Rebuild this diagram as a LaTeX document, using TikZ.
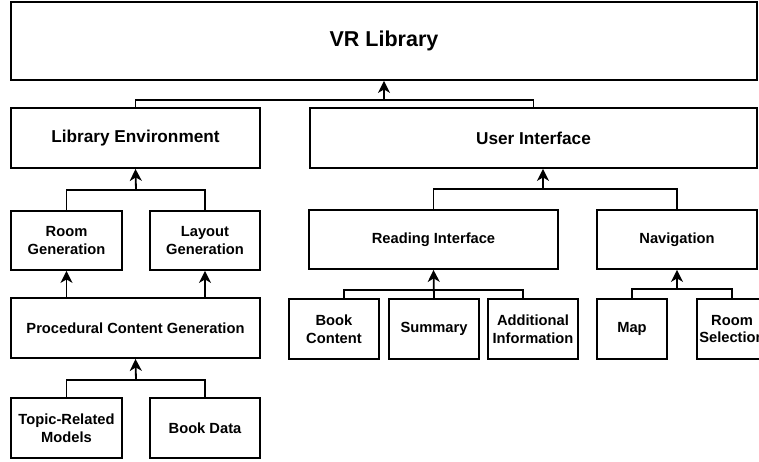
\documentclass[tikz,border=0pt]{standalone}
\usepackage{fontspec}
\setmainfont{Liberation Sans}
\usetikzlibrary{arrows.meta,positioning}

\begin{document}
\begin{tikzpicture}[x=1pt,y=-1pt,
    box/.style={draw=black,line width=1.8pt,rectangle,inner sep=1pt,align=center,
        font=\fontsize{14.7}{17.5}\selectfont\bfseries},
    midbox/.style={box,font=\fontsize{17.2}{20}\selectfont\bfseries},
    topbox/.style={box,font=\fontsize{21.5}{25}\selectfont\bfseries},
    link/.style={draw=black,line width=1.8pt},
    uparrow/.style={link,-{Stealth[length=12pt,width=12pt,inset=3.5pt]}}]
        \useasboundingbox (0,0) rectangle (759,461);
        \node[topbox,minimum width=746pt,minimum height=78pt] (vrlib) at (384,41) {VR Library};
        \node[midbox,minimum width=249pt,minimum height=60pt] (libenv) at (135.5,138) {Library Environment};
        \node[midbox,minimum width=447pt,minimum height=60pt] (ui) at (533.5,138) {User Interface};
        \node[box,minimum width=111pt,minimum height=59pt] (roomgen) at (66.5,240.5) {Room\\Generation};
        \node[box,minimum width=110pt,minimum height=59pt] (layoutgen) at (205,240.5) {Layout\\Generation};
        \node[box,minimum width=249pt,minimum height=60pt] (pcg) at (135.5,328) {Procedural Content Generation};
        \node[box,minimum width=111pt,minimum height=60pt] (topic) at (66.5,428) {Topic-Related\\Models};
        \node[box,minimum width=110pt,minimum height=60pt] (bookdata) at (205,428) {Book Data};
        \node[box,minimum width=249pt,minimum height=59pt] (reading) at (433.5,239.5) {Reading Interface};
        \node[box,minimum width=160pt,minimum height=59pt] (nav) at (677,239.5) {Navigation};
        \node[box,minimum width=90pt,minimum height=60pt] (bookcont) at (334,329) {Book\\Content};
        \node[box,minimum width=90pt,minimum height=60pt] (summary) at (434,329) {Summary};
        \node[box,minimum width=90pt,minimum height=60pt] (addinfo) at (533,329) {Additional\\Information};
        \node[box,minimum width=70pt,minimum height=60pt] (map) at (632,329) {Map};
        \node[box,minimum width=70pt,minimum height=60pt] (roomsel) at (732,329) {Room\\Selection};
        \coordinate (jtop) at (384,100);
        \coordinate (jlib) at (136,190);
        \coordinate (jpcg) at (136,380);
        \coordinate (jui) at (543,189);
        \coordinate (jread) at (434,290);
        \coordinate (jnav) at (677,289);
        \draw[link] (libenv.north) |- (jtop) -| (ui.north);
        \draw[uparrow] (jtop) -- (vrlib.south);
        \draw[link] (roomgen.north) |- (jlib) -| (layoutgen.north);
        \draw[uparrow] (jlib) -- (libenv.south);
        \draw[uparrow] (pcg.north -| roomgen.south) -- (roomgen.south);
        \draw[uparrow] (pcg.north -| layoutgen.south) -- (layoutgen.south);
        \draw[link] (topic.north) |- (jpcg) -| (bookdata.north);
        \draw[uparrow] (jpcg) -- (pcg.south);
        \draw[link] (reading.north) |- (jui) -| (nav.north);
        \draw[uparrow] (jui) -- (jui |- ui.south);
        \draw[link] ([xshift=10pt]bookcont.north) |- (jread) -| ([xshift=-10pt]addinfo.north);
        \draw[uparrow] (summary.north) -- (reading.south);
        \draw[link] (map.north) |- (jnav) -| (roomsel.north);
        \draw[uparrow] (jnav) -- (nav.south);
\end{tikzpicture}
\end{document}
